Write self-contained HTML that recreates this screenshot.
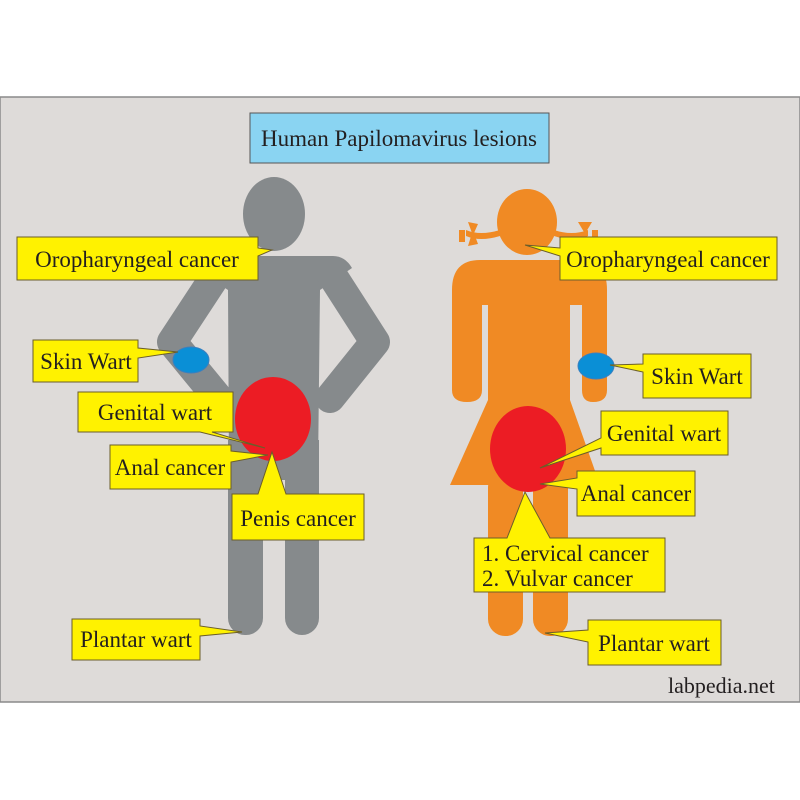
<!DOCTYPE html>
<html><head><meta charset="utf-8"><style>
html,body{margin:0;padding:0;background:#fff;}
svg{display:block;}
text{font-family:"Liberation Serif",serif;fill:#231f20;}
</style></head><body>
<svg width="800" height="800" viewBox="0 0 800 800" xmlns="http://www.w3.org/2000/svg">
<rect x="0" y="0" width="800" height="800" fill="#fff"/>
<rect x="0" y="97" width="800" height="605" fill="#dedbd9" stroke="#8a8a8a" stroke-width="1.5"/>
<!-- title -->
<rect x="250" y="113" width="299" height="50" fill="#8ad4f2" stroke="#555" stroke-width="1"/>
<text x="399" y="146" font-size="23" text-anchor="middle">Human Papilomavirus lesions</text>

<!-- MAN -->
<g fill="#868a8c">
<ellipse cx="274" cy="214" rx="31" ry="37"/>
<path d="M215 256 H333 Q345 256 352 268 L320 290 L318 470 H229 L228 290 L195 268 Q203 256 215 256Z"/>
<polyline points="218,272 172,342 218,398" fill="none" stroke="#868a8c" stroke-width="30" stroke-linejoin="round" stroke-linecap="round"/>
<polyline points="330,272 375,342 330,398" fill="none" stroke="#868a8c" stroke-width="30" stroke-linejoin="round" stroke-linecap="round"/>
<rect x="228" y="440" width="91" height="40"/>
<rect x="228" y="460" width="35" height="175" rx="17"/>
<rect x="285" y="460" width="34" height="175" rx="17"/>
</g>
<ellipse cx="273" cy="419" rx="38" ry="42" fill="#ec1c24"/>
<ellipse cx="191" cy="360" rx="18" ry="13" fill="#0a8fd6" stroke="#3a7fbf" stroke-width="1"/>

<!-- WOMAN -->
<g fill="#f08a24">
<ellipse cx="527" cy="222" rx="30" ry="33"/>
<path d="M500 236 Q480 242 466 236 L466 230 Q480 236 500 230Z"/>
<rect x="459" y="230" width="6" height="12"/>
<polygon points="468,222 478,224 474,233 478,244 468,246 472,233"/>
<path d="M554 236 Q572 242 588 236 L588 230 Q572 236 554 230Z"/>
<polygon points="578,222 592,222 586,232 590,244 580,244 584,232"/>
<rect x="592" y="230" width="6" height="12"/>
<path d="M480 260 H580 Q607 260 607 290 V390 Q607 402 593 402 Q582 402 582 390 V305 H570 V400 L600 485 H450 L488 400 V305 H482 V390 Q482 402 467 402 Q452 402 452 390 V290 Q452 260 480 260Z"/>
<rect x="488" y="470" width="35" height="166" rx="17"/>
<rect x="533" y="470" width="35" height="166" rx="17"/>
</g>
<ellipse cx="528" cy="449" rx="38" ry="43" fill="#ec1c24"/>
<ellipse cx="596" cy="366" rx="18" ry="13" fill="#0a8fd6" stroke="#3a7fbf" stroke-width="1"/>

<!-- callouts -->
<g fill="#fff200" stroke="#6b5e2a" stroke-width="1">
<polygon points="17,237 258,237 258,248 272,250 258,256 258,280 17,280"/>
<polygon points="560,237 777,237 777,280 560,280 560,256 525,245 560,248"/>
<polygon points="33,340 138,340 138,348 178,352 138,358 138,382 33,382"/>
<polygon points="643,354 751,354 751,398 643,398 643,372 610,365 643,364"/>
<polygon points="78,392 233,392 233,432 212,432 265,448 200,432 78,432"/>
<polygon points="110,445 231,445 231,451 268,455 231,462 231,489 110,489"/>
<polygon points="232,494 258,494 272,452 286,494 364,494 364,540 232,540"/>
<polygon points="72,619 200,619 200,626 242,632 200,636 200,660 72,660"/>
<polygon points="601,411 728,411 728,455 601,455 601,448 540,468 601,438"/>
<polygon points="577,471 695,471 695,516 577,516 577,489 540,484 577,478"/>
<polygon points="474,538 507,538 525,492 550,538 665,538 665,592 474,592"/>
<polygon points="588,620 721,620 721,665 588,665 588,642 545,633 588,630"/>
</g>
<g font-size="23">
<text x="137" y="267" text-anchor="middle">Oropharyngeal cancer</text>
<text x="668" y="267" text-anchor="middle">Oropharyngeal cancer</text>
<text x="86" y="369" text-anchor="middle">Skin Wart</text>
<text x="697" y="384" text-anchor="middle">Skin Wart</text>
<text x="155" y="420" text-anchor="middle">Genital wart</text>
<text x="170" y="475" text-anchor="middle">Anal cancer</text>
<text x="298" y="526" text-anchor="middle">Penis  cancer</text>
<text x="136" y="647" text-anchor="middle">Plantar wart</text>
<text x="664" y="441" text-anchor="middle">Genital wart</text>
<text x="636" y="501" text-anchor="middle">Anal cancer</text>
<text x="482" y="561">1. Cervical cancer</text>
<text x="482" y="586">2. Vulvar cancer</text>
<text x="654" y="651" text-anchor="middle">Plantar wart</text>
</g>
<text x="668" y="693" font-size="22">labpedia.net</text>
</svg>
</body></html>
